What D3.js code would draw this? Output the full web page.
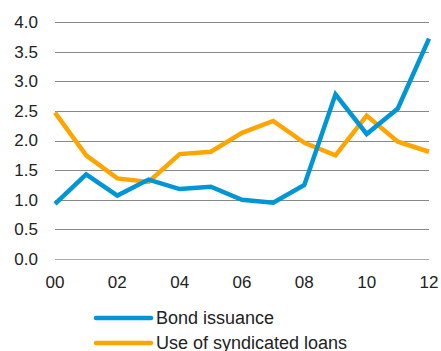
<!DOCTYPE html>
<html>
<head>
<meta charset="utf-8">
<script src="https://d3js.org/d3.v7.min.js"></script>
<style>
  body { margin: 0; background: #fff; }
  text { font-family: "Liberation Sans", Arial, sans-serif; fill: #222; }
</style>
</head>
<body>
<script>
var years = ["00","01","02","03","04","05","06","07","08","09","10","11","12"];
var bond = [0.93, 1.43, 1.07, 1.34, 1.18, 1.22, 1.00, 0.95, 1.25, 2.78, 2.11, 2.54, 3.72];
var loans = [2.47, 1.75, 1.36, 1.30, 1.77, 1.81, 2.13, 2.33, 1.96, 1.75, 2.42, 1.98, 1.81];
var yTicks = [0, 0.5, 1, 1.5, 2, 2.5, 3, 3.5, 4];
var xLabels = ["00","02","04","06","08","10","12"];
var seriesNames = ["Bond issuance", "Use of syndicated loans"];
var colors = ["#0096d6", "#ffa500"];

var width = 441, height = 351;
var svg = d3.select("body").append("svg")
  .attr("width", width).attr("height", height);

var x = d3.scalePoint().domain(years).range([55, 429]);
var y = d3.scaleLinear().domain([0, 4]).range([259, 22]);

// gridlines
svg.selectAll(".grid").data(yTicks).enter().append("line")
  .attr("x1", 55).attr("x2", 429)
  .attr("y1", function(d){ return Math.round(y(d)) + 0.5; })
  .attr("y2", function(d){ return Math.round(y(d)) + 0.5; })
  .attr("stroke", function(d){ return d === 0 ? "#aaa" : "#888"; })
  .attr("stroke-width", 1);

// y labels
svg.selectAll(".ylab").data(yTicks).enter().append("text")
  .attr("x", 38).attr("y", function(d){ return y(d); })
  .attr("dy", "0.35em").attr("text-anchor", "end")
  .style("font-size", "17px")
  .text(function(d){ return d.toFixed(1); });

// x labels
svg.selectAll(".xlab").data(xLabels).enter().append("text")
  .attr("x", function(d){ return x(d); }).attr("y", 282)
  .attr("dy", "0.35em").attr("text-anchor", "middle")
  .style("font-size", "17px")
  .text(function(d){ return d; });

var line = d3.line()
  .x(function(d, i){ return x(years[i]); })
  .y(function(d){ return y(d); });

[loans, bond].forEach(function(s, k){
  svg.append("path").datum(s)
    .attr("d", line)
    .attr("fill", "none")
    .attr("stroke", k === 0 ? colors[1] : colors[0])
    .attr("stroke-width", 4.5)
    .attr("stroke-linejoin", "miter");
});

// legend
var leg = svg.selectAll(".leg").data(seriesNames).enter().append("g")
  .attr("transform", function(d, i){ return "translate(96," + (318 + i * 25) + ")"; });
leg.append("line").attr("x1", 0).attr("x2", 55)
  .attr("stroke", function(d, i){ return colors[i]; })
  .attr("stroke-width", 4.5).attr("stroke-linecap", "round");
leg.append("text").attr("x", 60).attr("dy", "0.35em")
  .style("font-size", "18px")
  .text(function(d){ return d; });
</script>
</body>
</html>
